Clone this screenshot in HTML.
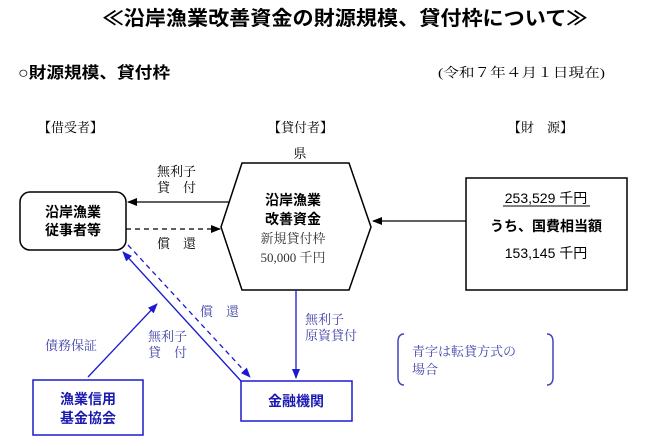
<!DOCTYPE html>
<html><head><meta charset="utf-8"><style>
html,body{margin:0;padding:0;background:#fff;}
svg{display:block;}
.g{font-family:"Liberation Sans","Noto Sans CJK JP",sans-serif;}
.b{font-weight:bold;}
.m{font-family:"Liberation Serif","Noto Serif CJK SC",serif;}
</style></head><body>
<svg width="650" height="446" viewBox="0 0 650 446" xmlns="http://www.w3.org/2000/svg">
<defs>
<marker id="ak" markerWidth="10" markerHeight="8" refX="9" refY="4" orient="auto" markerUnits="userSpaceOnUse"><path d="M0,0 L10,4 L0,8z" fill="#000"/></marker>
<marker id="ab" markerWidth="10" markerHeight="8" refX="9" refY="4" orient="auto" markerUnits="userSpaceOnUse"><path d="M0,0 L10,4 L0,8z" fill="#1a1ad0"/></marker>
</defs>
<text class="g b" x="345" y="25" font-size="20" text-anchor="middle" fill="#000" textLength="485" lengthAdjust="spacingAndGlyphs">≪沿岸漁業改善資金の財源規模、貸付枠について≫</text>
<text class="g b" x="18" y="78" font-size="16" fill="#000" textLength="152" lengthAdjust="spacingAndGlyphs">○財源規模、貸付枠</text>
<text class="m" x="438" y="77" font-size="13" fill="#000" textLength="167" lengthAdjust="spacingAndGlyphs">(令和７年４月１日現在)</text>
<text class="m" x="38" y="132" font-size="13" fill="#000">【借受者】</text>
<text class="m" x="268" y="132" font-size="13" fill="#000">【貸付者】</text>
<text class="m" x="508" y="132" font-size="13" fill="#000">【財　源】</text>
<text class="m" x="300" y="158" font-size="13" text-anchor="middle" fill="#000">県</text>

<rect x="20" y="192" width="106" height="58" rx="10" fill="#fff" stroke="#000" stroke-width="1.5"/>
<text class="g b" x="73" y="217" font-size="14" text-anchor="middle">沿岸漁業</text>
<text class="g b" x="73" y="235" font-size="14" text-anchor="middle">従事者等</text>

<polygon points="242,163 349,163 371,227 349,290 242,290 221,227" fill="#fff" stroke="#000" stroke-width="1.5"/>
<text class="g b" x="293" y="205" font-size="14" text-anchor="middle">沿岸漁業</text>
<text class="g b" x="293" y="224" font-size="14" text-anchor="middle">改善資金</text>
<text class="m" x="293" y="243" font-size="13" text-anchor="middle" fill="#333">新規貸付枠</text>
<text class="m" x="293" y="262" font-size="13" text-anchor="middle" fill="#333">50,000 千円</text>

<rect x="466" y="178" width="161" height="112" fill="#fff" stroke="#000" stroke-width="1.5"/>
<text class="g" x="546" y="203" font-size="14" text-anchor="middle">253,529 千円</text>
<line x1="503" y1="206" x2="590" y2="206" stroke="#000" stroke-width="1"/>
<text class="g b" x="546" y="231" font-size="14" text-anchor="middle">うち、国費相当額</text>
<text class="g" x="546" y="258" font-size="14" text-anchor="middle">153,145 千円</text>

<line x1="466" y1="221" x2="373" y2="221" stroke="#000" stroke-width="1.3" marker-end="url(#ak)"/>
<line x1="229" y1="202" x2="128" y2="202" stroke="#000" stroke-width="1.3" marker-end="url(#ak)"/>
<line x1="126" y1="229" x2="220" y2="229" stroke="#000" stroke-width="1.3" stroke-dasharray="5,4" marker-end="url(#ak)"/>
<text class="m" x="157" y="176" font-size="13" fill="#000">無利子</text>
<text class="m" x="157" y="192" font-size="13" fill="#000">貸　付</text>
<text class="m" x="157" y="248" font-size="13" fill="#000">償　還</text>

<rect x="241" y="381" width="111" height="40" fill="#fff" stroke="#1a1ad0" stroke-width="1.5"/>
<text class="g b" x="296" y="406" font-size="14" text-anchor="middle" fill="#1a1ab0">金融機関</text>
<rect x="33" y="380" width="110" height="55" fill="#fff" stroke="#1a1ad0" stroke-width="1.5"/>
<text class="g b" x="88" y="404" font-size="14" text-anchor="middle" fill="#1a1ab0">漁業信用</text>
<text class="g b" x="88" y="423" font-size="14" text-anchor="middle" fill="#1a1ab0">基金協会</text>

<line x1="296" y1="290" x2="296" y2="378" stroke="#1a1ad0" stroke-width="1.3" marker-end="url(#ab)"/>
<text class="m" x="305" y="324" font-size="13" fill="#4444aa">無利子</text>
<text class="m" x="305" y="340" font-size="13" fill="#4444aa">原資貸付</text>

<line x1="241" y1="381" x2="123" y2="252" stroke="#1a1ad0" stroke-width="1.3" marker-end="url(#ab)"/>
<line x1="128" y1="245" x2="250" y2="377" stroke="#1a1ad0" stroke-width="1.3" stroke-dasharray="5,4" marker-end="url(#ab)"/>
<line x1="88" y1="377" x2="157" y2="304" stroke="#1a1ad0" stroke-width="1.3" marker-end="url(#ab)"/>
<text class="m" x="200" y="316" font-size="13" fill="#4444aa">償　還</text>
<text class="m" x="148" y="341" font-size="13" fill="#4444aa">無利子</text>
<text class="m" x="148" y="357" font-size="13" fill="#4444aa">貸　付</text>
<text class="m" x="45" y="350" font-size="13" fill="#4444aa">債務保証</text>

<path d="M404,334 Q398,334 398,342 L398,377 Q398,385 404,385" fill="none" stroke="#4444bb" stroke-width="1.5"/>
<path d="M547,334 Q553,334 553,342 L553,377 Q553,385 547,385" fill="none" stroke="#4444bb" stroke-width="1.5"/>
<text class="m" x="412" y="356" font-size="13" fill="#4444aa">青字は転貸方式の</text>
<text class="m" x="412" y="374" font-size="13" fill="#4444aa">場合</text>
</svg>
</body></html>
